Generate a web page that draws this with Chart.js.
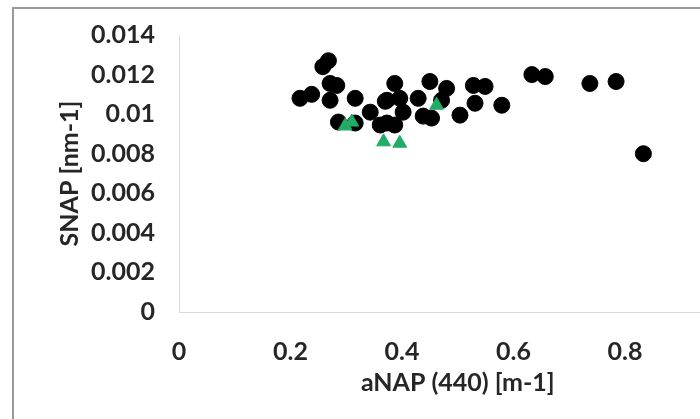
<!DOCTYPE html>
<html>
<head>
<meta charset="utf-8">
<script src="https://cdn.jsdelivr.net/npm/chart.js@4/dist/chart.umd.min.js"></script>
<style>
  html, body { margin: 0; padding: 0; background: #fff; overflow: hidden; width: 700px; height: 419px; }
  #frame { position: absolute; left: 12px; top: 7px; width: 820px; height: 440px; border: 2px solid #9a9a9a; box-sizing: border-box; }
  #wrap { position: absolute; left: 0; top: 0; width: 800px; height: 419px; }
</style>
</head>
<body>
<div id="frame"></div>
<div id="wrap"><canvas id="c" width="800" height="419"></canvas></div>
<script>
// aNAP(440) [m-1] vs SNAP [nm-1]
const blackX = [0.217, 0.238, 0.258, 0.268, 0.271, 0.283, 0.271, 0.316, 0.286, 0.316,
                0.343, 0.361, 0.373, 0.387, 0.370, 0.396, 0.402, 0.387, 0.373, 0.429,
                0.450, 0.480, 0.471, 0.438, 0.453, 0.504, 0.528, 0.549, 0.531, 0.579,
                0.633, 0.657, 0.737, 0.784, 0.833];
const blackY = [0.0108, 0.0110, 0.0124, 0.0127, 0.01155, 0.01145, 0.0107, 0.0108, 0.0096, 0.00955,
                0.0101, 0.00945, 0.0107, 0.01155, 0.01065, 0.0108, 0.0101, 0.00945, 0.00955, 0.0108,
                0.01165, 0.0113, 0.0107, 0.0099, 0.0098, 0.00995, 0.01145, 0.0114, 0.01055, 0.01045,
                0.0120, 0.0119, 0.01155, 0.01165, 0.0080];
const greenX = [0.298, 0.310, 0.367, 0.396, 0.462];
const greenY = [0.0094, 0.0096, 0.0086, 0.00853, 0.01045];

const xTickStep = 0.2;
const yTickStep = 0.002;

const toPoints = (xs, ys) => xs.map((x, i) => ({ x: x, y: ys[i] }));
const fmt = v => String(parseFloat(Number(v).toFixed(3)));

const tickFont = { family: 'Lato, "Open Sans", sans-serif', size: 25, weight: 'bold' };
const titleFont = { family: 'Lato, "Open Sans", sans-serif', size: 25, weight: 'bold' };

new Chart(document.getElementById('c'), {
  type: 'scatter',
  data: {
    datasets: [
      {
        data: toPoints(blackX, blackY),
        order: 1,
        pointStyle: 'circle',
        pointRadius: 8,
        pointBackgroundColor: '#000',
        pointBorderColor: '#000',
        pointBorderWidth: 1
      },
      {
        data: toPoints(greenX, greenY),
        order: 0,
        pointStyle: 'triangle',
        pointRadius: 8,
        pointBackgroundColor: '#22ac66',
        pointBorderColor: '#22ac66',
        pointBorderWidth: 1
      }
    ]
  },
  options: {
    responsive: false,
    animation: false,
    layout: { padding: { left: 0, top: 35, right: 63.5, bottom: 0 } },
    plugins: { legend: { display: false }, tooltip: { enabled: false } },
    scales: {
      x: {
        type: 'linear',
        min: 0, max: 1,
        afterFit: s => { s.height = 107; s.paddingLeft = 0; s.paddingRight = 0; },
        grid: { display: false, drawTicks: false },
        border: { display: true, color: '#d9d9d9', width: 1 },
        ticks: { stepSize: xTickStep, padding: 25, color: '#262626', font: tickFont, callback: fmt, maxRotation: 0 },
        title: { display: true, text: 'aNAP (440) [m-1]', color: '#262626', font: titleFont, padding: { top: 0, bottom: 21 } }
      },
      y: {
        type: 'linear',
        min: 0, max: 0.014,
        afterFit: s => { s.width = 179; s.paddingTop = 0; s.paddingBottom = 0; },
        grid: { display: false, drawTicks: false },
        border: { display: true, color: '#d9d9d9', width: 1 },
        ticks: { stepSize: yTickStep, padding: 24, color: '#262626', font: tickFont, callback: fmt },
        title: { display: true, text: 'SNAP [nm-1]', color: '#262626', font: titleFont, padding: { top: 55, bottom: 0 } }
      }
    }
  }
});
</script>
</body>
</html>
